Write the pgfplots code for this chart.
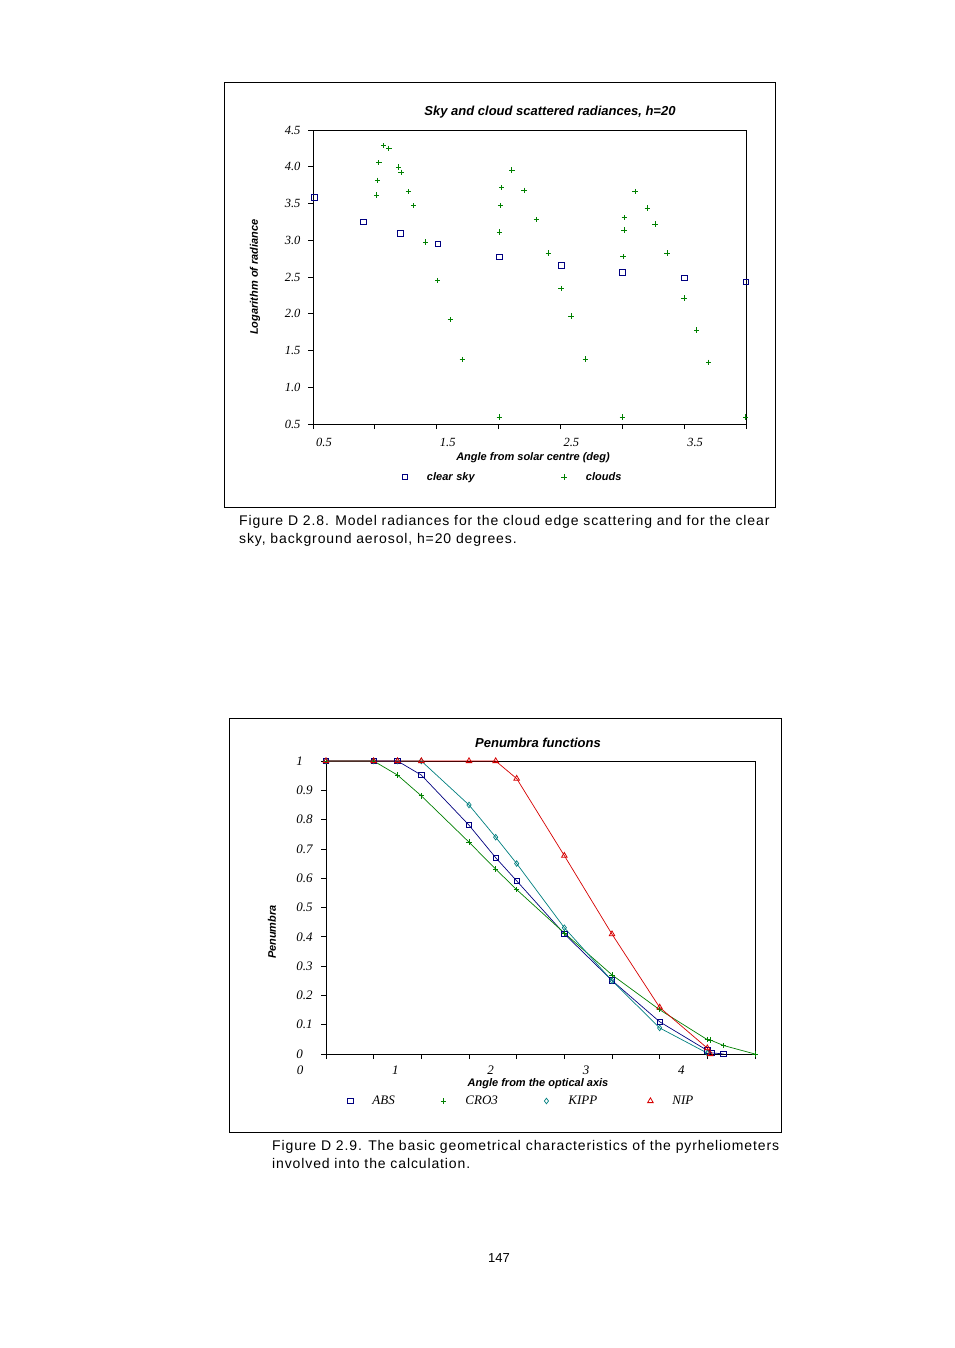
\documentclass[border=0pt]{standalone}
\usepackage{fontspec}
\setmainfont{Liberation Serif}
\setsansfont{Liberation Sans}
\newfontfamily\capfont[LetterSpace=6.3]{Liberation Sans}
\usepackage{pgfplots}
\pgfplotsset{compat=1.18}

\definecolor{exnavy}{RGB}{0,0,128}
\definecolor{exgreen}{RGB}{0,128,0}
\definecolor{exteal}{RGB}{0,128,128}
\definecolor{exred}{RGB}{215,0,0}

\pgfplotsset{
  xlstyle/.style={
    scale only axis,
    tick align=outside,
    xtick pos=bottom, ytick pos=left,
    major tick length=5pt,
    axis line style={line width=0.8pt},
    tick style={black, line width=0.8pt},
    /pgf/number format/assume math mode=true,
    clip=false,
    legend style={draw=none, fill=none, inner sep=0pt, outer sep=0pt},
    legend image code/.code={
      \path[draw=none, fill=none, use as bounding box] (-4pt,-4pt) rectangle (20pt,4pt);
      \draw[only marks] plot coordinates {(0pt,0pt)};
    },
  },
}

\begin{document}
\begin{tikzpicture}
\path[fill=white, use as bounding box] (0pt,0pt) rectangle (954pt,-1348pt);

% ---- Figure D 2.8 ----
\draw[line width=0.8pt] (224pt,-82pt) rectangle (775pt,-507pt);
\node[font=\sffamily\bfseries\itshape\fontsize{13}{15}\selectfont] at (550pt,-112pt)
  {Sky and cloud scattered radiances, h=20};
\node[font=\sffamily\bfseries\itshape\fontsize{11}{13}\selectfont, rotate=90] at (255pt,-277pt)
  {Logarithm of radiance};
\node[font=\sffamily\bfseries\itshape\fontsize{11}{13}\selectfont] at (533pt,-458pt)
  {Angle from solar centre (deg)};

\begin{axis}[
  xlstyle,
  at={(313pt,-424pt)}, anchor=south west,
  width=433pt, height=294pt,
  xmin=0.5, xmax=4, ymin=0.5, ymax=4.5,
  ticklabel style={font=\fontsize{12.5}{14}\selectfont\itshape},
  xtick={0.5,1,...,4},
  xticklabels={0.5,,1.5,,2.5,,3.5,},
  x tick label style={xshift=11pt, yshift=-6pt},
  ytick={0.5,1,...,4.5},
  y tick label style={xshift=-4pt, /pgf/number format/.cd, fixed, fixed zerofill, precision=1},
  legend columns=2,
  legend style={at={(0.2032,-0.1803)}, anchor=west,
    nodes={text width=131pt, font=\sffamily\bfseries\itshape\fontsize{11}{13}\selectfont}},
]
\addplot[only marks, mark=square, mark size=2.8pt, exnavy, mark options={line width=0.8pt}]
  coordinates {
  (0.51,3.58) (0.909,3.25) (1.207,3.09) (1.508,2.95) (2.008,2.776)
  (2.506,2.654) (3.0,2.559) (3.5,2.49) (4.0,2.436)
  };
\addlegendentry{clear sky}
\addplot[only marks, mark=+, mark size=2.7pt, exgreen, mark options={line width=0.8pt}]
  coordinates {
  (1.070,4.286) (1.113,4.251) (1.032,4.055) (1.191,3.997) (1.212,3.924)
  (1.022,3.816) (1.014,3.616) (1.272,3.661) (1.312,3.470) (1.411,2.976)
  (1.508,2.450) (1.610,1.919) (1.707,1.380) (2.006,0.595) (2.008,3.112)
  (2.016,3.470) (2.024,3.715) (2.107,3.956) (2.207,3.680) (2.306,3.280)
  (2.403,2.827) (2.506,2.344) (2.586,1.969) (2.702,1.384) (3.0,0.595)
  (3.006,2.776) (3.014,3.139) (3.016,3.307) (3.102,3.661) (3.202,3.439)
  (3.264,3.221) (3.361,2.827) (3.5,2.214) (3.602,1.779) (3.699,1.339)
  (3.998,0.595)
  };
\addlegendentry{clouds}
\end{axis}

\node[font=\capfont\fontsize{14}{18}\selectfont, anchor=base west, inner sep=0pt] at (239pt,-525pt)
  {Figure D 2.8. Model radiances for the cloud edge scattering and for the clear};
\node[font=\capfont\fontsize{14}{18}\selectfont, anchor=base west, inner sep=0pt] at (239pt,-543pt)
  {sky, background aerosol, h=20 degrees.};

% ---- Figure D 2.9 ----
\draw[line width=0.8pt] (229pt,-718pt) rectangle (781pt,-1132pt);
\node[font=\sffamily\bfseries\itshape\fontsize{13}{15}\selectfont] at (538pt,-743pt)
  {Penumbra functions};
\node[font=\sffamily\bfseries\itshape\fontsize{11}{13}\selectfont, rotate=90] at (272pt,-932pt)
  {Penumbra};
\node[font=\sffamily\bfseries\itshape\fontsize{11}{13}\selectfont] at (538pt,-1084pt)
  {Angle from the optical axis};

\begin{axis}[
  xlstyle,
  at={(326pt,-1054pt)}, anchor=south west,
  width=429pt, height=293pt,
  xmin=0, xmax=4.5, ymin=0, ymax=1,
  ticklabel style={font=\fontsize{13}{15}\selectfont\itshape},
  xtick={0,0.5,...,4.5},
  xticklabels={0,,1,,2,,3,,4,},
  x tick label style={xshift=-26pt, yshift=-3pt},
  ytick={0,0.1,...,1},
  y tick label style={xshift=-4pt, text width=17pt, align=left},
  legend columns=4,
  legend style={at={(0.0476,-0.1604)}, anchor=west,
    nodes={font=\itshape\fontsize{13}{15}\selectfont}},
]
\addplot[exnavy, line width=0.7pt, mark=square, mark size=2.7pt, mark options={line width=0.8pt}]
  coordinates {
  (0,1) (0.5,1) (0.75,1) (1.0,0.952) (1.5,0.781) (1.78,0.670) (2.0,0.591)
  (2.5,0.410) (3.0,0.251) (3.5,0.110) (4.0,0.012) (4.05,0.004) (4.17,0)
  };
\addlegendentry{\makebox[65pt][l]{ABS}}
\addplot[exgreen, line width=0.7pt, mark=+, mark size=2.7pt, mark options={line width=0.8pt}]
  coordinates {
  (0,1) (0.5,1) (0.75,0.952) (1.0,0.881) (1.5,0.723) (1.78,0.631) (2.0,0.561)
  (2.5,0.413) (3.0,0.270) (3.5,0.151) (4.0,0.049) (4.03,0.048) (4.17,0.029) (4.5,0)
  };
\addlegendentry{\makebox[75pt][l]{CRO3}}
\addplot[exteal, line width=0.7pt, mark=diamond, mark size=2.8pt, mark options={line width=0.7pt}]
  coordinates {
  (0,1) (0.5,1) (0.75,1) (1.0,1) (1.5,0.850) (1.78,0.740) (2.0,0.650)
  (2.5,0.431) (3.0,0.250) (3.5,0.089) (4.0,0.003)
  };
\addlegendentry{\makebox[76pt][l]{KIPP}}
\addplot[exred, line width=0.7pt, mark=triangle, mark size=3.2pt, mark options={line width=0.8pt}]
  coordinates {
  (0,1) (0.5,1) (0.75,1) (1.0,1) (1.5,1) (1.78,1) (2.0,0.94)
  (2.5,0.677) (3.0,0.409) (3.5,0.159) (4.0,0.020) (4.03,0)
  };
\addlegendentry{NIP}
\end{axis}

\node[font=\capfont\fontsize{14}{18}\selectfont, anchor=base west, inner sep=0pt] at (272pt,-1150pt)
  {Figure D 2.9. The basic geometrical characteristics of the pyrheliometers};
\node[font=\capfont\fontsize{14}{18}\selectfont, anchor=base west, inner sep=0pt] at (272pt,-1168pt)
  {involved into the calculation.};

\node[font=\sffamily\fontsize{13}{15}\selectfont] at (499pt,-1258pt) {147};
\end{tikzpicture}
\end{document}
